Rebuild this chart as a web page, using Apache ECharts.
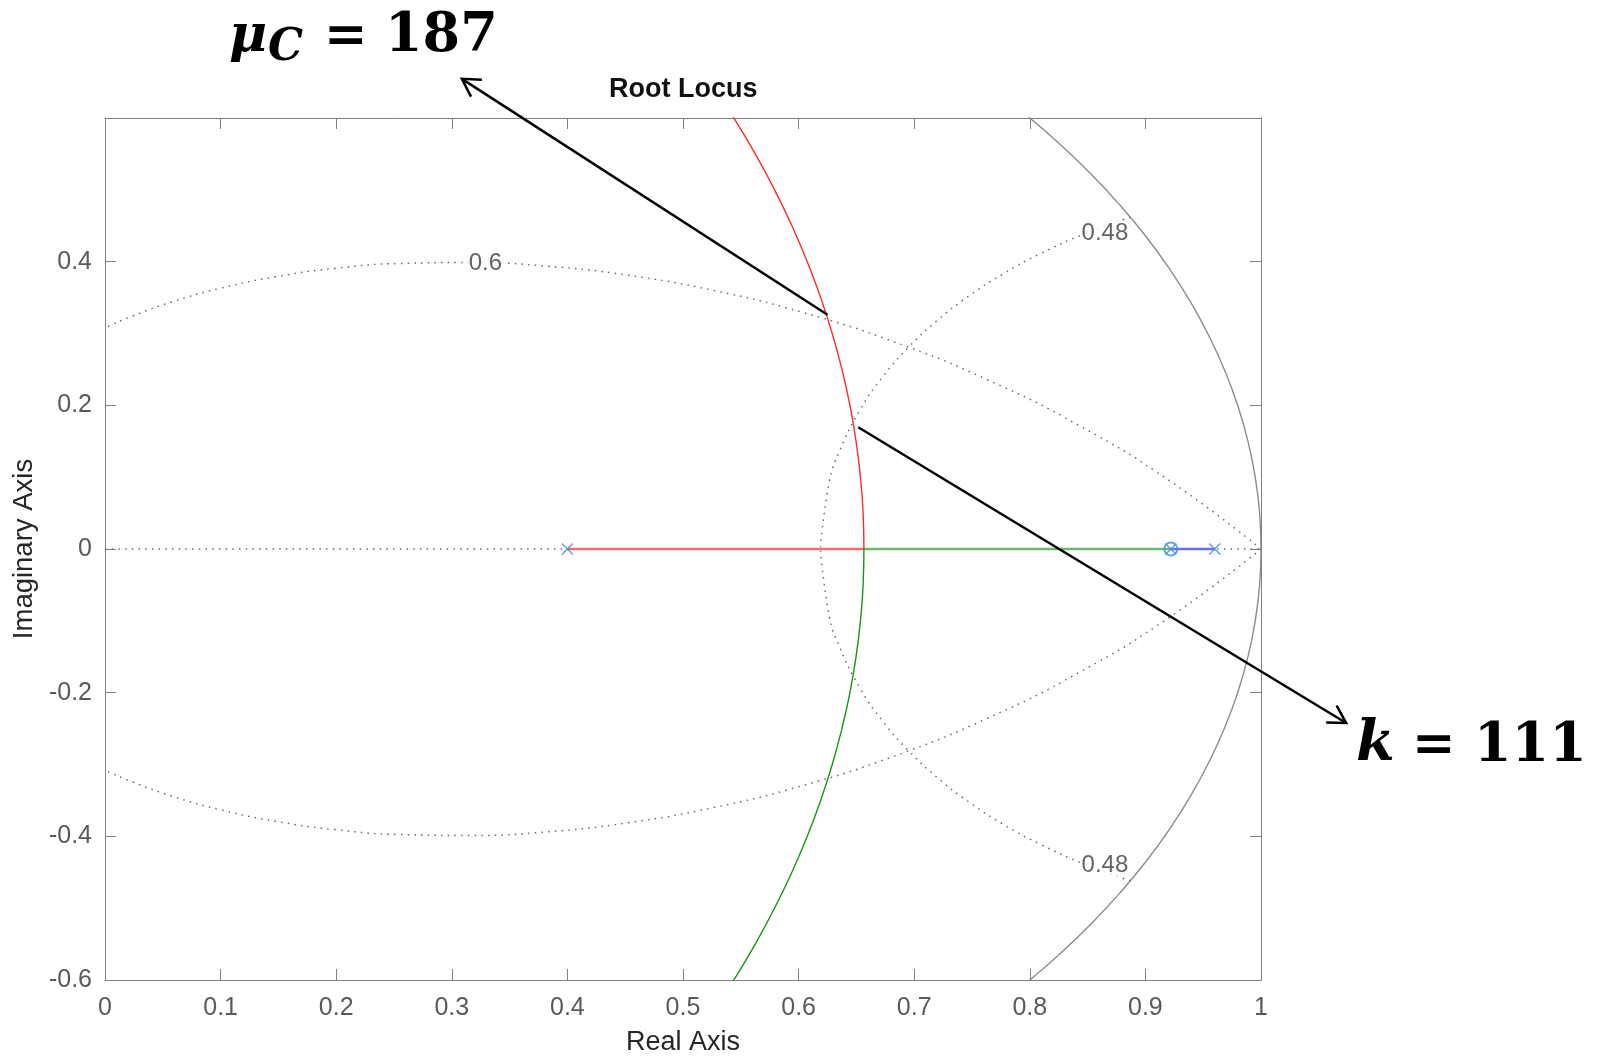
<!DOCTYPE html>
<html>
<head>
<meta charset="utf-8">
<script src="https://cdn.jsdelivr.net/npm/echarts@6/dist/echarts.min.js"></script>
<style>html,body{margin:0;padding:0;background:#fff;}#c{width:1599px;height:1061px;}</style>
</head>
<body>
<div id="c"></div>
<script>
// ---------- data ----------
var xTicks = [0, 1];          // real axis range
var yTicks = [-0.6, 0.6];     // imaginary axis range

// open-loop poles and zeros
var poles = [[0.4, 0], [0.922, 0], [0.96, 0]];
var zeros = [[0.922, 0]];

// root locus branches
var redReal = [[0.4, 0], [0.6565, 0]];
var greenReal = [[0.6565, 0], [0.922, 0]];
var blueReal = [[0.922, 0], [0.96, 0]];
var redArc = [[0.6565,0],[0.6558,0.05],[0.6535,0.1],[0.6497,0.15],[0.6444,0.2],[0.6375,0.25],[0.6291,0.3],[0.6191,0.35],[0.6075,0.4],[0.5942,0.45],[0.5792,0.5],[0.5625,0.55],[0.5440,0.6],[0.5237,0.65]];
var greenArc = [[0.6565,0],[0.6558,-0.05],[0.6535,-0.1],[0.6497,-0.15],[0.6444,-0.2],[0.6375,-0.25],[0.6291,-0.3],[0.6191,-0.35],[0.6075,-0.4],[0.5942,-0.45],[0.5792,-0.5],[0.5625,-0.55],[0.5440,-0.6],[0.5237,-0.65]];

// unit circle (gray)
var unitCircle = [[0.7648,-0.6442],[0.7961,-0.6052],[0.8253,-0.5646],[0.8525,-0.5227],[0.8776,-0.4794],[0.9005,-0.4350],[0.9211,-0.3894],[0.9394,-0.3429],[0.9553,-0.2955],[0.9689,-0.2474],[0.9801,-0.1987],[0.9888,-0.1494],[0.9950,-0.0998],[0.9988,-0.0500],[1,0],[0.9988,0.0500],[0.9950,0.0998],[0.9888,0.1494],[0.9801,0.1987],[0.9689,0.2474],[0.9553,0.2955],[0.9394,0.3429],[0.9211,0.3894],[0.9005,0.4350],[0.8776,0.4794],[0.8525,0.5227],[0.8253,0.5646],[0.7961,0.6052],[0.7648,0.6442]];

// damping ratio 0.6 grid curve
var zetaUpper = [[1,0],[0.9231,0.0926],[0.8436,0.1710],[0.7629,0.2360],[0.6823,0.2885],[0.6032,0.3295],[0.5263,0.3600],[0.4524,0.3811],[0.3824,0.3937],[0.3165,0.3988],[0.2552,0.3975],[0.1988,0.3906],[0.1473,0.3789],[0.1009,0.3634],[0.0595,0.3448],[0.0230,0.3238],[0,0.3079],[-0.0088,0.3011]];
var zetaLower = [[1,0],[0.9231,-0.0926],[0.8436,-0.1710],[0.7629,-0.2360],[0.6823,-0.2885],[0.6032,-0.3295],[0.5263,-0.3600],[0.4524,-0.3811],[0.3824,-0.3937],[0.3165,-0.3988],[0.2552,-0.3975],[0.1988,-0.3906],[0.1473,-0.3789],[0.1009,-0.3634],[0.0595,-0.3448],[0.0230,-0.3238],[0,-0.3079],[-0.0088,-0.3011]];

// natural frequency 0.48 grid curve
var wnUpper = [[0.8870,0.4618],[0.8465,0.4381],[0.8098,0.4116],[0.7767,0.3828],[0.7467,0.3515],[0.7196,0.3177],[0.6952,0.2809],[0.6730,0.2402],[0.6531,0.1935],[0.6351,0.1349],[0.6267,0.0946],[0.6188,0]];
var wnLower = [[0.8870,-0.4618],[0.8465,-0.4381],[0.8098,-0.4116],[0.7767,-0.3828],[0.7467,-0.3515],[0.7196,-0.3177],[0.6952,-0.2809],[0.6730,-0.2402],[0.6531,-0.1935],[0.6351,-0.1349],[0.6267,-0.0946],[0.6188,0]];

// real axis dotted line
var realAxisLine = [[0, 0], [1, 0]];

// grid labels
var gridLabels = [[0.329, 0.397, '0.6'], [0.865, 0.44, '0.48'], [0.865, -0.44, '0.48']];

// annotation arrows: [tailX, tailY, headX, headY]
var arrowData = [[0.625, 0.326, 0.3087, 0.6545], [0.6516, 0.1695, 1.0737, -0.2423]];

// ---------- chart ----------
var chart = echarts.init(document.getElementById('c'), null, {renderer: 'canvas'});
var FONT = '"Liberation Sans", Arial, sans-serif';
var MATH = '"DejaVu Serif", serif';
var dotted = {color: '#6a6a6a', width: 1.5, type: [1.5, 5.2]};
var xMark = 'path://M0,0L10,10M10,0L0,10';

function axisCommon(extra) {
  return Object.assign({
    type: 'value',
    axisLine: {show: true, onZero: false, lineStyle: {color: '#808080', width: 1}},
    axisTick: {show: true, inside: true, length: 11, lineStyle: {color: '#808080', width: 1}},
    splitLine: {show: false}
  }, extra);
}

var option = {
  animation: false,
  backgroundColor: '#ffffff',
  title: {
    text: 'Root Locus', left: 604, top: 71,
    textStyle: {fontFamily: FONT, fontSize: 27, fontWeight: 'bold', color: '#111'}
  },
  grid: {left: 105, right: 338, top: 118, bottom: 76, containLabel: false},
  xAxis: [
    axisCommon({min: xTicks[0], max: xTicks[1], interval: 0.1, position: 'bottom',
      name: 'Real Axis', nameLocation: 'middle', nameGap: 49,
      nameTextStyle: {fontFamily: FONT, fontSize: 27, color: '#262626'},
      axisLabel: {margin: 16, fontFamily: FONT, fontSize: 25, color: '#5a5a5a'}}),
    axisCommon({min: xTicks[0], max: xTicks[1], interval: 0.1, position: 'top', axisLabel: {show: false}})
  ],
  yAxis: [
    axisCommon({min: yTicks[0], max: yTicks[1], interval: 0.2, position: 'left',
      name: 'Imaginary Axis', nameLocation: 'middle', nameGap: 63,
      nameTextStyle: {fontFamily: FONT, fontSize: 27.5, color: '#262626'},
      axisLabel: {margin: 13, fontFamily: FONT, fontSize: 25, color: '#5a5a5a',
        formatter: function (v) { return Math.abs(v - 0.6) < 1e-9 ? '' : String(Math.round(v * 10) / 10); }}}),
    axisCommon({min: yTicks[0], max: yTicks[1], interval: 0.2, position: 'right', axisLabel: {show: false}})
  ],
  series: [
    {type: 'line', data: realAxisLine, showSymbol: false, lineStyle: dotted, z: 1},
    {type: 'line', data: zetaUpper, smooth: true, showSymbol: false, lineStyle: dotted, z: 1},
    {type: 'line', data: zetaLower, smooth: true, showSymbol: false, lineStyle: dotted, z: 1},
    {type: 'line', data: wnUpper, smooth: true, showSymbol: false, lineStyle: dotted, z: 1},
    {type: 'line', data: wnLower, smooth: true, showSymbol: false, lineStyle: dotted, z: 1},
    {type: 'line', data: unitCircle, smooth: true, showSymbol: false, lineStyle: {color: '#8c8c8c', width: 1.4}, z: 2},
    {type: 'scatter', data: gridLabels, symbolSize: 0, z: 3,
      label: {show: true, position: 'inside', formatter: function (p) { return p.data[2]; },
        fontFamily: FONT, fontSize: 24, color: '#3c3c3c', backgroundColor: '#ffffff', padding: [0, 1]}},
    {type: 'line', data: redReal, showSymbol: false, lineStyle: {color: '#ff6b6b', width: 2.6}, z: 4},
    {type: 'line', data: greenReal, showSymbol: false, lineStyle: {color: '#6cb86c', width: 2.6}, z: 4},
    {type: 'line', data: blueReal, showSymbol: false, lineStyle: {color: '#6b6bff', width: 2.6}, z: 4},
    {type: 'line', data: redArc, smooth: true, showSymbol: false, lineStyle: {color: '#ff2a2a', width: 1.4}, z: 4},
    {type: 'line', data: greenArc, smooth: true, showSymbol: false, lineStyle: {color: '#1a931a', width: 1.4}, z: 4},
    {type: 'scatter', data: poles, symbol: xMark, symbolSize: 11, z: 5,
      itemStyle: {color: 'rgba(0,0,0,0)', borderColor: '#3d8fd6', borderWidth: 1.6}},
    {type: 'scatter', data: zeros, symbol: 'circle', symbolSize: 13, z: 5,
      itemStyle: {color: 'rgba(0,0,0,0)', borderColor: '#3d8fd6', borderWidth: 1.8}},
    {type: 'custom', data: arrowData, clip: false, z: 10,
      encode: {x: [0, 2], y: [1, 3]},
      renderItem: function (params, api) {
        var p1 = api.coord([api.value(0), api.value(1)]);
        var p2 = api.coord([api.value(2), api.value(3)]);
        var ang = Math.atan2(p1[1] - p2[1], p1[0] - p2[0]);
        var L = 20, a = Math.PI / 6;
        var h1 = [p2[0] + L * Math.cos(ang + a), p2[1] + L * Math.sin(ang + a)];
        var h2 = [p2[0] + L * Math.cos(ang - a), p2[1] + L * Math.sin(ang - a)];
        return {type: 'group', children: [
          {type: 'line', shape: {x1: p1[0], y1: p1[1], x2: p2[0], y2: p2[1]}, style: {stroke: '#000', lineWidth: 2.5}},
          {type: 'polyline', shape: {points: [h1, p2, h2]}, style: {stroke: '#000', fill: null, lineWidth: 2.5}}
        ]};
      }}
  ],
  graphic: [
    {type: 'text', x: 229, y: 37, style: {text: 'μ', font: 'bold italic 52px ' + MATH, fill: '#000', align: 'left', verticalAlign: 'middle'}},
    {type: 'text', x: 268, y: 49, style: {text: 'C', font: 'bold italic 44px ' + MATH, fill: '#000', align: 'left', verticalAlign: 'middle'}},
    {type: 'text', x: 324, y: 38, style: {text: '=', font: 'bold 52px ' + MATH, fill: '#000', align: 'left', verticalAlign: 'middle'}},
    {type: 'text', x: 385, y: 37, style: {text: '187', font: 'bold 54px ' + MATH, fill: '#000', align: 'left', verticalAlign: 'middle'}},
    {type: 'text', x: 1356, y: 745, style: {text: 'k', font: 'bold italic 56px ' + MATH, fill: '#000', align: 'left', verticalAlign: 'middle'}},
    {type: 'text', x: 1412, y: 747, style: {text: '=', font: 'bold 52px ' + MATH, fill: '#000', align: 'left', verticalAlign: 'middle'}},
    {type: 'text', x: 1474, y: 747, style: {text: '111', font: 'bold 54px ' + MATH, fill: '#000', align: 'left', verticalAlign: 'middle'}}
  ]
};
chart.setOption(option);
</script>
</body>
</html>
